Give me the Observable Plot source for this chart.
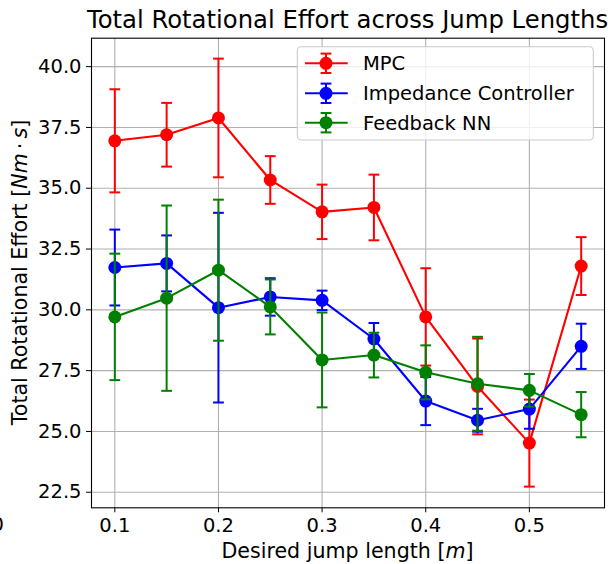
<!DOCTYPE html>
<html>
<head>
<meta charset="utf-8">
<script src="https://cdn.jsdelivr.net/npm/d3@7"></script>
<script src="https://cdn.jsdelivr.net/npm/@observablehq/plot@0.6"></script>
<style>
  html, body { margin: 0; padding: 0; background: white; }
  #chart { width: 612px; height: 564px; overflow: hidden; }
</style>
</head>
<body>
<div id="chart"></div>
<script>
// ---- data ----
const lengths = [0.1, 0.15, 0.2, 0.25, 0.3, 0.35, 0.4, 0.45, 0.5, 0.55];
const mpcMean = [36.95, 37.20, 37.89, 35.34, 34.03, 34.21, 29.71, 26.85, 24.52, 31.80];
const mpcErr  = [2.12, 1.31, 2.44, 0.98, 1.12, 1.35, 2.00, 1.97, 1.79, 1.19];
const impMean = [31.74, 31.91, 30.09, 30.53, 30.39, 28.80, 26.25, 25.46, 25.92, 28.50];
const impErr  = [1.56, 1.15, 3.90, 0.77, 0.40, 0.66, 0.99, 0.47, 0.81, 0.93];
const nnMean  = [29.71, 30.48, 31.63, 30.12, 27.94, 28.14, 27.43, 26.96, 26.69, 25.69];
const nnErr   = [2.60, 3.81, 2.90, 1.13, 1.95, 0.92, 1.11, 1.93, 0.67, 0.93];
const seriesNames = ["MPC", "Impedance Controller", "Feedback NN"];
const seriesColors = ["#ff0000", "#0000ff", "#008000"];
const xTicks = [0.1, 0.2, 0.3, 0.4, 0.5];
const yTicks = [22.5, 25.0, 27.5, 30.0, 32.5, 35.0, 37.5, 40.0];
const titleText = "Total Rotational Effort across Jump Lengths";

// ---- build table ----
const means = [mpcMean, impMean, nnMean];
const errs = [mpcErr, impErr, nnErr];
const series = seriesNames.map((name, i) => ({
  name, color: seriesColors[i],
  rows: lengths.map((x, j) => ({x, y: means[i][j], lo: means[i][j] - errs[i][j], hi: means[i][j] + errs[i][j]}))
}));

// horizontal-line symbol for error bar caps
const capSymbol = {
  draw(context, size) {
    const w = Math.sqrt(size / Math.PI);
    context.moveTo(-w, 0);
    context.lineTo(w, 0);
  }
};

const marks = [
  Plot.ruleX(xTicks, {x: d => d, stroke: "#b0b0b0", strokeWidth: 1.1}),
  Plot.ruleY(yTicks, {y: d => d, stroke: "#b0b0b0", strokeWidth: 1.1})
];
for (const s of series) {
  marks.push(
    Plot.ruleX(s.rows, {x: "x", y1: "lo", y2: "hi", stroke: s.color, strokeWidth: 2}),
    Plot.dot(s.rows, {x: "x", y: "lo", symbol: capSymbol, r: 5.4, fill: "none", stroke: s.color, strokeWidth: 2}),
    Plot.dot(s.rows, {x: "x", y: "hi", symbol: capSymbol, r: 5.4, fill: "none", stroke: s.color, strokeWidth: 2}),
    Plot.line(s.rows, {x: "x", y: "y", stroke: s.color, strokeWidth: 2.1}),
    Plot.dot(s.rows, {x: "x", y: "y", r: 6.5, fill: s.color, stroke: "none"})
  );
}
marks.push(Plot.frame({stroke: "black", strokeWidth: 1.1}));

const W = 612, H = 564;
const mL = 91, mR = 8, mT = 37.7, mB = 56.7;
const chart = Plot.plot({
  width: W, height: H,
  marginLeft: mL, marginRight: mR, marginTop: mT, marginBottom: mB,
  style: {fontFamily: "DejaVu Sans", fontSize: "19.4px", background: "white", color: "black", overflow: "visible"},
  x: {domain: [0.0775, 0.5725], ticks: xTicks, tickFormat: d3.format(".1f"), label: null, tickSize: 5, tickPadding: 5},
  y: {domain: [21.86, 41.17], ticks: yTicks, tickFormat: d3.format(".1f"), label: null, tickSize: 5, tickPadding: 5},
  marks
});
document.getElementById("chart").appendChild(chart);

// ---- annotations: title, axis labels, legend ----
const svg = d3.select(chart);
// make the tick labels the reference's size
svg.selectAll("text").style("font-size", "19.5px").style("font-family", "DejaVu Sans");

const cx = mL + (W - mL - mR) / 2;
const cy = mT + (H - mT - mB) / 2;
const font = "DejaVu Sans";
function txt(sel, size) {
  return sel.append("text")
    .style("font-family", font).style("font-size", size + "px")
    .attr("fill", "black");
}

txt(svg, 24.3)
  .attr("x", cx).attr("y", 28.3)
  .attr("text-anchor", "middle")
  .text(titleText);

// cropped artifact at far left
txt(svg, 19.5)
  .attr("x", 4).attr("y", 531)
  .attr("text-anchor", "end")
  .text("0");

const xl = txt(svg, 20.6)
  .attr("x", cx).attr("y", 557.5)
  .attr("text-anchor", "middle");
xl.append("tspan").text("Desired jump length [");
xl.append("tspan").attr("font-style", "italic").text("m");
xl.append("tspan").text("]");

const yl = txt(svg, 20.6)
  .attr("transform", `translate(26.5,${cy}) rotate(-90)`)
  .attr("text-anchor", "middle");
yl.append("tspan").text("Total Rotational Effort [");
yl.append("tspan").attr("font-style", "italic").text("Nm");
yl.append("tspan").text("\u2009\u00B7\u2009");
yl.append("tspan").attr("font-style", "italic").text("s");
yl.append("tspan").text("]");

const lg = svg.append("g");
lg.append("rect")
  .attr("x", 297.3).attr("y", 46.7).attr("width", 296).attr("height", 93.3)
  .attr("rx", 4).attr("fill", "white").attr("fill-opacity", 0.8)
  .attr("stroke", "#cccccc").attr("stroke-width", 1.1);
const rowY = [63.3, 93.3, 122.7];
series.forEach((s, i) => {
  const y = rowY[i];
  lg.append("line").attr("x1", 305).attr("x2", 347.7).attr("y1", y).attr("y2", y)
    .attr("stroke", s.color).attr("stroke-width", 2.1);
  lg.append("line").attr("x1", 326).attr("x2", 326).attr("y1", y - 9.7).attr("y2", y + 9.7)
    .attr("stroke", s.color).attr("stroke-width", 2);
  [y - 9.7, y + 9.7].forEach(cyy => lg.append("line")
    .attr("x1", 320.6).attr("x2", 331.4).attr("y1", cyy).attr("y2", cyy)
    .attr("stroke", s.color).attr("stroke-width", 2));
  lg.append("circle").attr("cx", 326).attr("cy", y).attr("r", 6.5).attr("fill", s.color);
  txt(lg, 19.5).attr("x", 363).attr("y", y + 7)
    .attr("text-anchor", "start")
    .text(s.name);
});
</script>
</body>
</html>
